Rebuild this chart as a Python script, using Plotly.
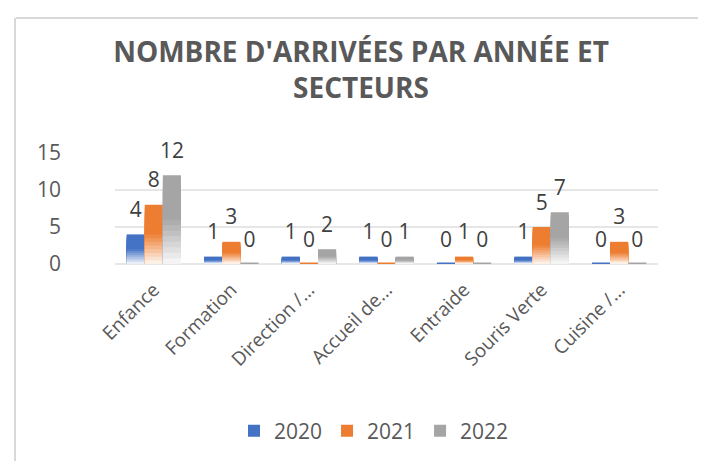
import plotly.graph_objects as go

# Data
secteurs = ["Enfance", "Formation", "Direction /...", "Accueil de...",
            "Entraide", "Souris Verte", "Cuisine /..."]
annees = ["2020", "2021", "2022"]
arrivees_2020 = [4, 1, 1, 1, 0, 1, 0]
arrivees_2021 = [8, 3, 0, 0, 1, 5, 3]
arrivees_2022 = [12, 0, 2, 1, 0, 7, 0]
couleurs = ["#4472C4", "#ED7D31", "#A5A5A5"]

W, H = 706, 461
ML, MR, MT, MB = 107, 56, 145, 205
N_SLICES = 16


def mix(hex_color, t):
    # blend white -> colour, t in [0, 1]
    r, g, b = (int(hex_color[i:i + 2], 16) for i in (1, 3, 5))
    r = round(255 + (r - 255) * t)
    g = round(255 + (g - 255) * t)
    b = round(255 + (b - 255) * t)
    return f"rgb({r},{g},{b})"


fig = go.Figure()
series = [arrivees_2020, arrivees_2021, arrivees_2022]
for annee, vals, col in zip(annees, series, couleurs):
    # overlapping bars, shorter ones lighter: fakes Excel's fade-to-white gradient
    for k in range(N_SLICES):
        frac = (N_SLICES - k) / N_SLICES
        t = min(1.0, 0.06 + (frac - 0.5 / N_SLICES) / 0.55)
        first = k == 0
        fig.add_trace(go.Bar(
            x=secteurs,
            y=[v * frac for v in vals],
            offsetgroup=annee,
            legendgroup=annee,
            name=annee,
            showlegend=first,
            marker=dict(color=mix(col, t), line=dict(width=0)),
            hoverinfo="skip",
        ))
    # thin sliver for zero-height bars (Excel still shows their top face)
    fig.add_trace(go.Bar(
        x=secteurs, y=[v if v == 0 else None for v in vals],
        offsetgroup=annee, legendgroup=annee, showlegend=False,
        marker=dict(color=col, line=dict(width=3, color=col)),
        hoverinfo="skip", cliponaxis=False,
    ))

# data labels, floated a little above the bars like Excel's 3D labels
for annee, vals in zip(annees, series):
    fig.add_trace(go.Scatter(
        x=secteurs, y=vals, mode="text+markers", offsetgroup=annee,
        text=[str(v) for v in vals], textposition="top center",
        marker=dict(size=18, opacity=0),
        textfont=dict(size=21, color="#404040", family="Open Sans"),
        showlegend=False, cliponaxis=False, hoverinfo="skip",
    ))

pw = W - ML - MR
ph = H - MT - MB
fx = lambda px: (px - ML) / pw
fy = lambda py: (H - MB - py) / ph

fig.update_layout(
    width=W, height=H,
    margin=dict(l=ML, r=MR, t=MT, b=MB),
    paper_bgcolor="white", plot_bgcolor="white",
    barmode="group", bargap=0.3, bargroupgap=0.0,
    scattermode="group", scattergap=0.3,
    font=dict(family="Open Sans", color="#595959"),
    title=dict(
        text="NOMBRE D'ARRIVÉES PAR ANNÉE ET<br>SECTEURS",
        x=0.5, xref="container", xanchor="center",
        y=1 - 54 / H, yref="container", yanchor="top",
        font=dict(size=28, color="#595959", family="Open Sans", weight="bold"),
    ),
    xaxis=dict(
        tickangle=-45, tickfont=dict(size=19, color="#595959"),
        showline=False, ticks="", showgrid=False, automargin=False,
        ticklabelstandoff=10,
    ),
    yaxis=dict(
        range=[0, 15], dtick=5, tickfont=dict(size=21, color="#595959"),
        gridcolor="#e6e6e6", gridwidth=1.5, zeroline=True,
        zerolinecolor="#e6e6e6", zerolinewidth=1.5,
        showline=False, ticks="", ticklabelstandoff=53, automargin=False,
    ),
    legend=dict(
        orientation="h", x=fx(366), xanchor="center",
        y=fy(423), yanchor="middle",
        font=dict(size=21, color="#595959"),
        traceorder="normal", itemwidth=30,
    ),
    shapes=[
        dict(type="line", xref="paper", yref="paper",
             x0=fx(8), x1=fx(W), y0=fy(10), y1=fy(10),
             line=dict(color="#d9d9d9", width=2)),
        dict(type="line", xref="paper", yref="paper",
             x0=fx(7), x1=fx(7), y0=fy(10), y1=fy(H),
             line=dict(color="#d9d9d9", width=2)),
    ],
)

fig.write_html("out.html")
